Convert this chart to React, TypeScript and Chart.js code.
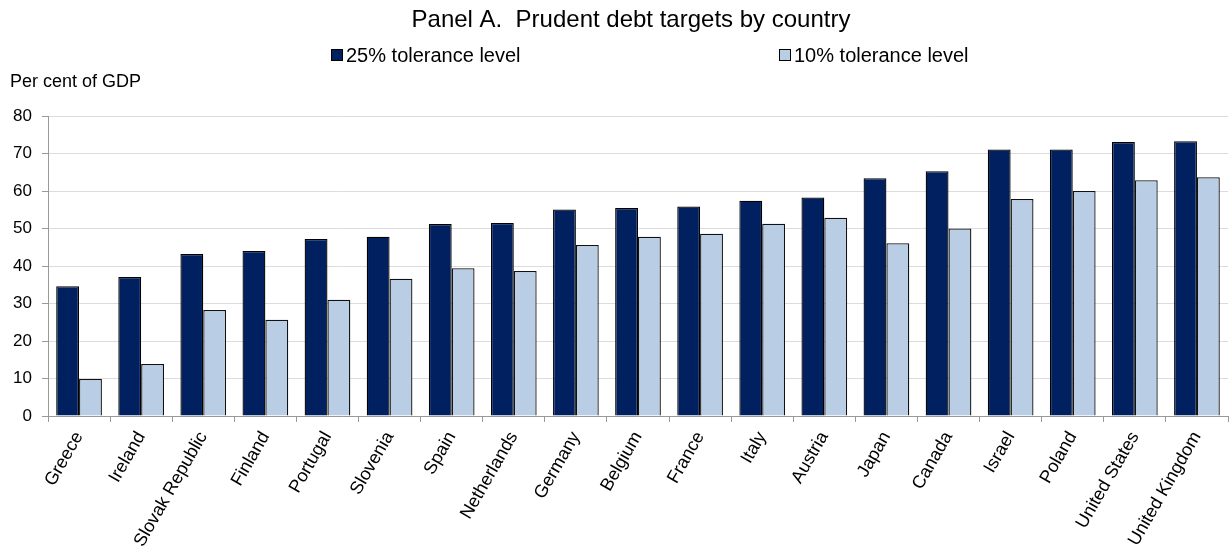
import React, { useEffect, useRef } from "react";
import { Chart, registerables } from "chart.js";

Chart.register(...registerables);

const TITLE = "Panel A.  Prudent debt targets by country";
const Y_CAPTION = "Per cent of GDP";
const SERIES_NAMES = ["25% tolerance level", "10% tolerance level"];
const COLORS = ["#002060", "#B9CDE5"];

const countries = [
  "Greece", "Ireland", "Slovak Republic", "Finland", "Portugal", "Slovenia", "Spain",
  "Netherlands", "Germany", "Belgium", "France", "Italy", "Austria", "Japan", "Canada",
  "Israel", "Poland", "United States", "United Kingdom",
];
const tolerance25 = [34.6, 37.1, 43.2, 44.0, 47.2, 47.8, 51.2, 51.5, 55.1, 55.5, 55.9, 57.4, 58.3, 63.4, 65.3, 71.1, 71.1, 73.1, 73.3];
const tolerance10 = [9.9, 13.9, 28.3, 25.7, 31.0, 36.6, 39.4, 38.7, 45.6, 47.8, 48.6, 51.3, 52.9, 46.1, 50.0, 57.9, 60.0, 62.9, 63.7];

const FONT = "'Liberation Sans', Arial, Helvetica, sans-serif";

const overlayPlugin = {
  id: "overlay",
  afterDraw(chart: any) {
    const ctx = chart.ctx;
    ctx.save();
    ctx.fillStyle = "#000";
    ctx.textBaseline = "alphabetic";
    // title
    ctx.font = `24px ${FONT}`;
    ctx.textAlign = "center";
    ctx.fillText(TITLE, 631, 27);
    // legend
    ctx.font = `20px ${FONT}`;
    ctx.textAlign = "left";
    const items = [
      { x: 331, text: SERIES_NAMES[0], color: COLORS[0] },
      { x: 779, text: SERIES_NAMES[1], color: COLORS[1] },
    ];
    for (const it of items) {
      ctx.fillStyle = it.color;
      ctx.fillRect(it.x + 0.5, 49.5, 11, 11);
      ctx.strokeStyle = "#000";
      ctx.lineWidth = 1;
      ctx.strokeRect(it.x + 0.5, 49.5, 11, 11);
      ctx.fillStyle = "#000";
      ctx.fillText(it.text, it.x + 15, 62);
    }
    // y caption
    ctx.font = `18px ${FONT}`;
    ctx.fillText(Y_CAPTION, 10, 87);
    ctx.restore();
  },
};

export default function App() {
  const ref = useRef<HTMLCanvasElement>(null);
  useEffect(() => {
    if (!ref.current) return;
    const chart = new Chart(ref.current, {
      type: "bar",
      data: {
        labels: countries,
        datasets: [
          {
            label: SERIES_NAMES[0],
            data: tolerance25,
            backgroundColor: COLORS[0],
            borderColor: "#000",
            borderWidth: 1.3,
            categoryPercentage: 0.736,
            barPercentage: 1,
          },
          {
            label: SERIES_NAMES[1],
            data: tolerance10,
            backgroundColor: COLORS[1],
            borderColor: "#111",
            borderWidth: 1.3,
            categoryPercentage: 0.736,
            barPercentage: 1,
          },
        ],
      },
      options: {
        responsive: false,
        animation: false,
        layout: { padding: { top: 116, right: 4, left: 0, bottom: 0 } },
        plugins: {
          legend: { display: false },
          title: { display: false },
          tooltip: { enabled: false },
        },
        scales: {
          x: {
            grid: {
              drawOnChartArea: false,
              drawTicks: true,
              tickLength: 6,
              tickColor: "#999",
              offset: true,
            },
            border: { color: "#999", width: 1 },
            ticks: {
              font: { family: FONT, size: 18 },
              color: "#000",
              minRotation: 60,
              maxRotation: 60,
              autoSkip: false,
              padding: 6,
            },
            afterFit: (scale: any) => {
              scale.height = 135;
            },
          },
          y: {
            min: 0,
            max: 80,
            ticks: {
              stepSize: 10,
              font: { family: FONT, size: 17 },
              color: "#000",
              padding: 10,
            },
            grid: {
              color: "#dcdcdc",
              lineWidth: 1,
              drawTicks: true,
              tickLength: 6,
              tickColor: "#999",
            },
            border: { color: "#999", width: 1 },
            afterFit: (scale: any) => {
              scale.width = 48;
            },
          },
        },
      },
      plugins: [overlayPlugin],
    });
    return () => chart.destroy();
  }, []);
  return (
    <div style={{ position: "fixed", left: 0, top: 0, width: 1232, height: 551, background: "#fff" }}>
      <canvas ref={ref} width={1232} height={551} style={{ display: "block" }} />
    </div>
  );
}
